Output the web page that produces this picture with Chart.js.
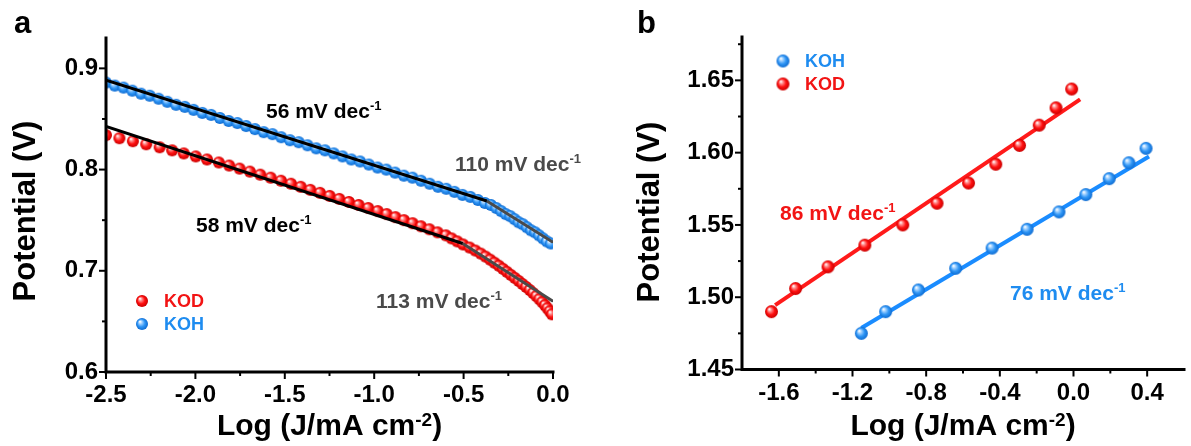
<!DOCTYPE html>
<html>
<head>
<meta charset="utf-8">
<script src="https://cdn.jsdelivr.net/npm/chart.js@4.4.1/dist/chart.umd.min.js"></script>
<style>
  body { margin: 0; background: #fff; }
  #wrap { position: relative; width: 1191px; height: 446px; overflow: hidden; }
  #chartA { position: absolute; left: 0; top: 0; }
  #chartB { position: absolute; left: 600px; top: 0; }
</style>
</head>
<body>
<div id="wrap">
  <canvas id="chartA" width="600" height="446"></canvas>
  <canvas id="chartB" width="591" height="446"></canvas>
</div>
<script>
const FONT = '"Liberation Sans", Arial, sans-serif';

// ---- panel a: Tafel curves, log J vs potential ----
const aKodLogJ = [-2.500,-2.425,-2.350,-2.275,-2.200,-2.130,-2.065,-1.998,-1.935,-1.869,-1.811,-1.753,-1.695,-1.637,-1.579,-1.521,-1.465,-1.411,-1.357,-1.303,-1.249,-1.195,-1.141,-1.087,-1.033,-0.980,-0.930,-0.881,-0.833,-0.785,-0.738,-0.691,-0.645,-0.599,-0.567,-0.535,-0.503,-0.466,-0.434,-0.404,-0.377,-0.351,-0.327,-0.303,-0.280,-0.258,-0.236,-0.214,-0.192,-0.171,-0.150,-0.130,-0.111,-0.093,-0.076,-0.060,-0.045,-0.031,-0.018,-0.006];
const aKodE = [0.834,0.831,0.828,0.825,0.822,0.819,0.816,0.813,0.810,0.807,0.804,0.801,0.798,0.795,0.792,0.789,0.786,0.783,0.780,0.777,0.774,0.771,0.768,0.765,0.762,0.759,0.756,0.753,0.750,0.747,0.744,0.741,0.738,0.735,0.732,0.729,0.726,0.723,0.720,0.717,0.714,0.711,0.708,0.705,0.702,0.699,0.696,0.693,0.690,0.687,0.684,0.681,0.678,0.675,0.672,0.669,0.666,0.663,0.660,0.657];
const aKohLogJ = [-2.500,-2.451,-2.402,-2.353,-2.304,-2.255,-2.206,-2.157,-2.108,-2.059,-2.010,-1.961,-1.912,-1.863,-1.814,-1.765,-1.716,-1.667,-1.618,-1.569,-1.520,-1.471,-1.422,-1.373,-1.324,-1.275,-1.226,-1.177,-1.128,-1.079,-1.030,-0.981,-0.932,-0.883,-0.834,-0.786,-0.738,-0.690,-0.643,-0.597,-0.551,-0.506,-0.462,-0.420,-0.381,-0.347,-0.317,-0.290,-0.264,-0.239,-0.215,-0.192,-0.169,-0.146,-0.123,-0.100,-0.078,-0.056,-0.034,-0.012];
const aKohE = [0.886,0.883,0.881,0.878,0.875,0.873,0.870,0.867,0.864,0.862,0.859,0.856,0.854,0.851,0.848,0.846,0.843,0.840,0.837,0.835,0.832,0.829,0.827,0.824,0.821,0.819,0.816,0.813,0.810,0.808,0.805,0.802,0.800,0.797,0.794,0.792,0.789,0.786,0.783,0.781,0.778,0.775,0.773,0.770,0.767,0.765,0.762,0.759,0.756,0.754,0.751,0.748,0.746,0.743,0.740,0.738,0.735,0.732,0.729,0.727];

// two-segment Tafel fits: break point [logJ, E] and slopes in mV/dec
const aKohBreak = [-0.37, 0.769];
const aKohSlopes = [56, 110];
const aKodBreak = [-0.505, 0.727];
const aKodSlopes = [58, 113];

const aXTicks = [-2.5, -2.0, -1.5, -1.0, -0.5, 0.0];
const aXMinor = [-2.25, -1.75, -1.25, -0.75, -0.25];
const aYTicks = [0.6, 0.7, 0.8, 0.9];
const aYMinor = [0.65, 0.75, 0.85];

// ---- panel b ----
const bKohLogJ = [-1.152, -1.020, -0.842, -0.640, -0.442, -0.252, -0.079, 0.067, 0.194, 0.301, 0.394];
const bKohE = [1.475, 1.490, 1.505, 1.520, 1.534, 1.547, 1.559, 1.571, 1.582, 1.593, 1.603];
const bKodLogJ = [-1.640, -1.509, -1.333, -1.133, -0.927, -0.741, -0.570, -0.422, -0.293, -0.186, -0.095, -0.010];
const bKodE = [1.490, 1.506, 1.521, 1.536, 1.550, 1.565, 1.579, 1.592, 1.605, 1.619, 1.631, 1.644];

// linear fits: logJ range, centre point, slope in mV/dec
const bKohFitRange = [-1.152, 0.41];
const bKohFitMid = [-0.371, 1.538];
const bKohSlope = 76;
const bKodFitRange = [-1.62, 0.036];
const bKodFitMid = [-0.792, 1.5657];
const bKodSlope = 86;

const bXTicks = [-1.6, -1.2, -0.8, -0.4, 0.0, 0.4];
const bXMinor = [-1.4, -1.0, -0.6, -0.2, 0.2];
const bYTicks = [1.45, 1.50, 1.55, 1.60, 1.65];
const bYMinor = [1.475, 1.525, 1.575, 1.625, 1.675];

const RED = '#f21414', BLUE = '#1e8cf0', GREY = '#4a4a4a';

// shaded ball marker
function sphere(r, light, base, dark) {
  const c = document.createElement('canvas');
  const s = Math.ceil(r * 2) + 2;
  c.width = s; c.height = s;
  const g = c.getContext('2d');
  const m = s / 2;
  const grad = g.createRadialGradient(m - r * 0.35, m - r * 0.4, r * 0.05, m, m, r);
  grad.addColorStop(0, '#ffffff');
  grad.addColorStop(0.25, light);
  grad.addColorStop(0.6, base);
  grad.addColorStop(1, dark);
  g.fillStyle = grad;
  g.beginPath(); g.arc(m, m, r, 0, Math.PI * 2); g.fill();
  return c;
}
const redBallA = sphere(6, '#ff8a8a', '#ff1010', '#c80000');
const blueBallA = sphere(6, '#9fd0ff', '#2e95f5', '#0d6ad0');
const redBallB = sphere(6.5, '#ff8a8a', '#ff1010', '#c80000');
const blueBallB = sphere(6.5, '#9fd0ff', '#2e95f5', '#0d6ad0');

const pts = (xs, ys) => xs.map((x, i) => ({ x: x, y: ys[i] }));

function tafelSegments(brk, slopes, x0, x1) {
  const [bx, by] = brk;
  const left = [{ x: x0, y: by + slopes[0] / 1000 * (bx - x0) }, { x: bx, y: by }];
  const right = [{ x: bx, y: by }, { x: x1, y: by - slopes[1] / 1000 * (x1 - bx) }];
  return [left, right];
}
function fitLine(range, mid, slope) {
  return range.map(x => ({ x: x, y: mid[1] + slope / 1000 * (x - mid[0]) }));
}

// text with superscripts: odd entries of parts are raised
function richText(ctx, x, y, parts, size, color, align, raise) {
  const main = `bold ${size}px ${FONT}`;
  const sup = `bold ${Math.round(size * 0.62)}px ${FONT}`;
  ctx.save();
  ctx.fillStyle = color;
  ctx.textAlign = 'left';
  ctx.textBaseline = 'alphabetic';
  let w = 0;
  parts.forEach((p, i) => { ctx.font = i % 2 ? sup : main; w += ctx.measureText(p).width; });
  let cx = align === 'center' ? x - w / 2 : x;
  parts.forEach((p, i) => {
    ctx.font = i % 2 ? sup : main;
    ctx.fillText(p, cx, i % 2 ? y - size * raise : y);
    cx += ctx.measureText(p).width;
  });
  ctx.restore();
}

function vTitle(ctx, x, y, text, size) {
  ctx.save();
  ctx.translate(x, y);
  ctx.rotate(-Math.PI / 2);
  ctx.font = `bold ${size}px ${FONT}`;
  ctx.fillStyle = '#000';
  ctx.textAlign = 'center';
  ctx.textBaseline = 'middle';
  ctx.fillText(text, 0, 0);
  ctx.restore();
}

function legendItem(ctx, img, cx, cy, label, color) {
  ctx.drawImage(img, cx - img.width / 2, cy - img.height / 2);
  ctx.save();
  ctx.font = `bold 18px ${FONT}`;
  ctx.fillStyle = color;
  ctx.textBaseline = 'middle';
  ctx.fillText(label, cx + 22, cy + 1);
  ctx.restore();
}

// axes lines, outward ticks and all text
function decor(cfg) {
  return {
    id: 'decor',
    afterDraw(chart) {
      const ctx = chart.ctx, a = chart.chartArea, sx = chart.scales.x, sy = chart.scales.y;
      ctx.save();
      ctx.strokeStyle = '#000';
      ctx.lineWidth = 3;
      ctx.lineCap = 'square';
      ctx.beginPath();
      ctx.moveTo(a.left, a.top);
      ctx.lineTo(a.left, a.bottom);
      ctx.lineTo(a.right, a.bottom);
      ctx.stroke();
      ctx.lineCap = 'butt';
      ctx.lineWidth = 2;
      const tick = (vals, len, horiz) => vals.forEach(v => {
        ctx.beginPath();
        if (horiz) {
          const px = sx.getPixelForValue(v);
          ctx.moveTo(px, a.bottom); ctx.lineTo(px, a.bottom + len);
        } else {
          const py = sy.getPixelForValue(v);
          ctx.moveTo(a.left, py); ctx.lineTo(a.left - len, py);
        }
        ctx.stroke();
      });
      tick(cfg.xTicks, 7, true); tick(cfg.xMinor, 4, true);
      tick(cfg.yTicks, 7, false); tick(cfg.yMinor, 4, false);
      ctx.restore();
      cfg.draw(ctx, chart);
    }
  };
}

function scales(xr, yr, xTicks, yTicks, xDec, yDec, yWidth, xHeight) {
  const tickFont = { family: FONT, size: 24, weight: 'bold' };
  return {
    x: {
      type: 'linear', min: xr[0], max: xr[1],
      afterBuildTicks: s => { s.ticks = xTicks.map(v => ({ value: v })); },
      afterFit: s => { s.height = xHeight; s.paddingLeft = 0; s.paddingRight = 0; },
      grid: { display: false, drawTicks: false },
      border: { display: false },
      ticks: { font: tickFont, color: '#000', padding: 9, maxRotation: 0, autoSkip: false,
               callback: v => Number(v).toFixed(xDec) }
    },
    y: {
      type: 'linear', min: yr[0], max: yr[1],
      afterBuildTicks: s => { s.ticks = yTicks.map(v => ({ value: v })); },
      afterFit: s => { s.width = yWidth; s.paddingTop = 0; s.paddingBottom = 0; },
      grid: { display: false, drawTicks: false },
      border: { display: false },
      ticks: { font: tickFont, color: '#000', padding: 8, autoSkip: false,
               callback: v => Number(v).toFixed(yDec) }
    }
  };
}

const baseOpts = {
  responsive: false,
  animation: false,
  events: [],
  plugins: { legend: { display: false }, tooltip: { enabled: false } }
};

// ---- chart a ----
const [kohFit1, kohFit2] = tafelSegments(aKohBreak, aKohSlopes, -2.5, 0.0);
const [kodFit1, kodFit2] = tafelSegments(aKodBreak, aKodSlopes, -2.5, 0.0);
const fitLineDs = (data, color) => ({ data: data, showLine: true, borderColor: color, borderWidth: 3,
  pointRadius: 0, order: 0 });

new Chart(document.getElementById('chartA'), {
  type: 'scatter',
  data: {
    datasets: [
      fitLineDs(kohFit1, '#000'), fitLineDs(kohFit2, GREY),
      fitLineDs(kodFit1, '#000'), fitLineDs(kodFit2, GREY),
      { label: 'KOD', data: pts(aKodLogJ, aKodE), pointStyle: redBallA, pointRadius: 5, order: 2 },
      { label: 'KOH', data: pts(aKohLogJ, aKohE), pointStyle: blueBallA, pointRadius: 5, order: 1 }
    ]
  },
  options: Object.assign({}, baseOpts, {
    layout: { padding: { top: 38, right: 47, left: 0, bottom: 0 } },
    scales: scales([-2.5, 0.0], [0.6, 0.93], aXTicks, aYTicks, 1, 1, 106, 74)
  }),
  plugins: [decor({
    xTicks: aXTicks, xMinor: aXMinor, yTicks: aYTicks, yMinor: aYMinor,
    draw(ctx, chart) {
      const a = chart.chartArea;
      ctx.save();
      ctx.font = `bold 31px ${FONT}`;
      ctx.fillStyle = '#000';
      ctx.fillText('a', 14, 33);
      ctx.restore();
      vTitle(ctx, 26, 211, 'Potential (V)', 31);
      richText(ctx, (a.left + a.right) / 2, 435, ['Log (J/mA cm', '-2', ')'], 30, '#000', 'center', 0.3);
      richText(ctx, 266, 118, [`${aKohSlopes[0]} mV dec`, '-1'], 21, '#000', 'left', 0.38);
      richText(ctx, 196, 232, [`${aKodSlopes[0]} mV dec`, '-1'], 21, '#000', 'left', 0.38);
      richText(ctx, 455, 171, [`${aKohSlopes[1]} mV dec`, '-1'], 21, GREY, 'left', 0.38);
      richText(ctx, 376, 308, [`${aKodSlopes[1]} mV dec`, '-1'], 21, GREY, 'left', 0.38);
      legendItem(ctx, redBallA, 142, 301, 'KOD', RED);
      legendItem(ctx, blueBallA, 142, 324, 'KOH', BLUE);
    }
  })]
});

// ---- chart b ----
new Chart(document.getElementById('chartB'), {
  type: 'scatter',
  data: {
    datasets: [
      { data: fitLine(bKodFitRange, bKodFitMid, bKodSlope), showLine: true, borderColor: '#ff1a1a',
        borderWidth: 4, pointRadius: 0, order: 1 },
      { data: fitLine(bKohFitRange, bKohFitMid, bKohSlope), showLine: true, borderColor: '#1a8cff',
        borderWidth: 4, pointRadius: 0, order: 1 },
      { label: 'KOH', data: pts(bKohLogJ, bKohE), pointStyle: blueBallB, pointRadius: 6, order: 0 },
      { label: 'KOD', data: pts(bKodLogJ, bKodE), pointStyle: redBallB, pointRadius: 6, order: 0 }
    ]
  },
  options: Object.assign({}, baseOpts, {
    layout: { padding: { top: 37, right: 0, left: 0, bottom: 0 } },
    scales: scales([-1.8, 0.6], [1.45, 1.68], bXTicks, bYTicks, 1, 2, 142, 76.5)
  }),
  plugins: [decor({
    xTicks: bXTicks, xMinor: bXMinor, yTicks: bYTicks, yMinor: bYMinor,
    draw(ctx, chart) {
      const a = chart.chartArea;
      ctx.save();
      ctx.font = `bold 31px ${FONT}`;
      ctx.fillStyle = '#000';
      ctx.fillText('b', 37, 33);
      ctx.restore();
      vTitle(ctx, 50, 212, 'Potential (V)', 31);
      richText(ctx, (a.left + a.right) / 2, 435, ['Log (J/mA cm', '-2', ')'], 30, '#000', 'center', 0.3);
      richText(ctx, 180, 220, [`${bKodSlope} mV dec`, '-1'], 21, RED, 'left', 0.38);
      richText(ctx, 410, 300, [`${bKohSlope} mV dec`, '-1'], 21, BLUE, 'left', 0.38);
      legendItem(ctx, blueBallB, 183, 61, 'KOH', BLUE);
      legendItem(ctx, redBallB, 183, 84, 'KOD', RED);
    }
  })]
});
</script>
</body>
</html>
